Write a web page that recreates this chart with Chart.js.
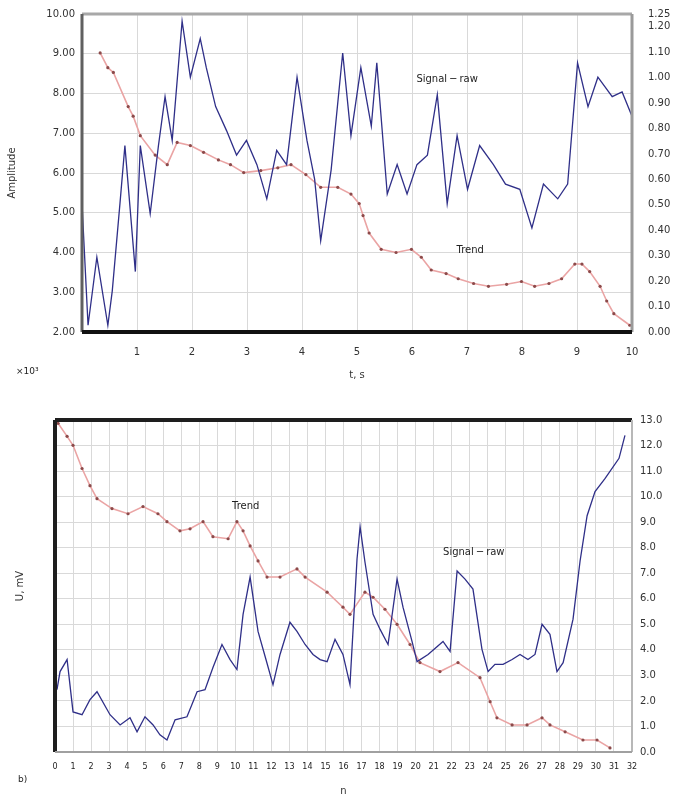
<!DOCTYPE html>
<html>
<head>
<meta charset="utf-8">
<script src="https://cdn.jsdelivr.net/npm/chart.js@4/dist/chart.umd.min.js"></script>
<style>
    html, body { margin: 0; padding: 0; background: #fff; }
    canvas { display: block; }
</style>
</head>
<body>
<canvas id="topChart" width="684" height="395"></canvas>
<canvas id="bottomChart" width="684" height="403"></canvas>
<script>
// ===== ДАННЫЕ: верхний график =====
const topSignalX = [0, 0.11, 0.27, 0.47, 0.55, 0.69, 0.78, 0.97, 1.06, 1.24, 1.39, 1.51, 1.64, 1.82, 1.97, 2.15, 2.26, 2.43, 2.63, 2.81, 2.99, 3.18, 3.36, 3.54, 3.72, 3.91, 4.09, 4.23, 4.34, 4.53, 4.74, 4.89, 5.07, 5.26, 5.36, 5.55, 5.73, 5.91, 6.09, 6.28, 6.46, 6.64, 6.82, 7.01, 7.23, 7.48, 7.70, 7.96, 8.18, 8.39, 8.65, 8.83, 9.01, 9.20, 9.38, 9.64, 9.82, 10];
const topSignalY = [5.23, 2.17, 3.88, 2.17, 3.03, 5.23, 6.69, 3.52, 6.69, 4.98, 6.69, 7.92, 6.82, 9.82, 8.41, 9.38, 8.65, 7.67, 7.06, 6.45, 6.82, 6.21, 5.35, 6.57, 6.21, 8.41, 6.82, 5.84, 4.30, 6.08, 9.02, 6.94, 8.65, 7.18, 8.77, 5.47, 6.21, 5.47, 6.21, 6.45, 7.97, 5.23, 6.94, 5.59, 6.69, 6.21, 5.72, 5.59, 4.62, 5.72, 5.35, 5.72, 8.77, 7.67, 8.41, 7.92, 8.04, 7.43];
const topTrendX = [0.33, 0.47, 0.57, 0.84, 0.93, 1.06, 1.33, 1.55, 1.73, 1.97, 2.21, 2.48, 2.70, 2.94, 3.25, 3.56, 3.80, 4.07, 4.34, 4.65, 4.89, 5.04, 5.11, 5.22, 5.44, 5.71, 5.99, 6.17, 6.35, 6.62, 6.84, 7.12, 7.39, 7.72, 7.99, 8.23, 8.49, 8.72, 8.96, 9.09, 9.23, 9.42, 9.54, 9.67, 9.96];
const topTrendY = [9.02, 8.65, 8.53, 7.67, 7.43, 6.94, 6.45, 6.21, 6.77, 6.69, 6.52, 6.33, 6.21, 6.01, 6.06, 6.13, 6.21, 5.96, 5.64, 5.64, 5.47, 5.23, 4.93, 4.49, 4.08, 4.00, 4.08, 3.88, 3.56, 3.47, 3.34, 3.22, 3.15, 3.20, 3.27, 3.15, 3.22, 3.34, 3.71, 3.71, 3.52, 3.15, 2.78, 2.46, 2.17];

// ===== ДАННЫЕ: нижний график =====
const bottomSignalX = [0.11, 0.28, 0.67, 1.00, 1.50, 1.94, 2.33, 3.05, 3.61, 4.16, 4.55, 4.99, 5.44, 5.82, 6.21, 6.66, 7.32, 7.88, 8.32, 8.76, 9.26, 9.71, 10.09, 10.43, 10.82, 11.26, 11.70, 12.09, 12.48, 13.03, 13.42, 13.87, 14.31, 14.70, 15.09, 15.53, 15.97, 16.36, 16.75, 16.92, 17.19, 17.64, 18.03, 18.47, 18.97, 19.30, 19.80, 20.08, 20.69, 21.52, 21.91, 22.30, 22.74, 23.18, 23.68, 24.02, 24.40, 24.85, 25.35, 25.79, 26.23, 26.62, 27.01, 27.45, 27.84, 28.18, 28.73, 29.12, 29.51, 29.95, 30.51, 31.28, 31.61];
const bottomSignalY = [2.44, 3.15, 3.62, 1.57, 1.46, 2.05, 2.36, 1.46, 1.06, 1.34, 0.79, 1.38, 1.06, 0.67, 0.47, 1.26, 1.38, 2.36, 2.44, 3.31, 4.21, 3.62, 3.23, 5.39, 6.85, 4.72, 3.62, 2.64, 3.82, 5.08, 4.72, 4.21, 3.82, 3.62, 3.54, 4.41, 3.82, 2.64, 7.56, 8.82, 7.44, 5.39, 4.80, 4.21, 6.77, 5.67, 4.33, 3.54, 3.82, 4.33, 3.94, 7.09, 6.77, 6.38, 4.02, 3.15, 3.43, 3.43, 3.62, 3.82, 3.62, 3.82, 5.00, 4.61, 3.15, 3.50, 5.20, 7.48, 9.25, 10.20, 10.71, 11.50, 12.40];
const bottomTrendX = [0.17, 0.67, 1.00, 1.50, 1.94, 2.33, 3.16, 4.05, 4.88, 5.71, 6.21, 6.93, 7.49, 8.21, 8.76, 9.60, 10.09, 10.43, 10.82, 11.26, 11.76, 12.48, 13.42, 13.87, 15.09, 15.97, 16.36, 17.19, 17.64, 18.30, 18.97, 19.69, 20.24, 21.35, 22.35, 23.57, 24.13, 24.51, 25.35, 26.18, 27.01, 27.45, 28.29, 29.28, 30.06, 30.78];
const bottomTrendY = [12.87, 12.36, 12.01, 11.10, 10.43, 9.92, 9.53, 9.33, 9.61, 9.33, 9.02, 8.66, 8.74, 9.02, 8.43, 8.35, 9.02, 8.66, 8.07, 7.48, 6.85, 6.85, 7.17, 6.85, 6.26, 5.67, 5.39, 6.26, 6.06, 5.59, 5.00, 4.21, 3.50, 3.15, 3.50, 2.91, 1.97, 1.34, 1.06, 1.06, 1.34, 1.06, 0.79, 0.47, 0.47, 0.16];

const FONT = '"DejaVu Sans", sans-serif';
const pts = (xs, ys) => xs.map((x, i) => ({ x: x, y: ys[i] }));

// ===== ПЛАГИНЫ: рамка и подписи =====
const framePlugin = {
    id: 'frame',
    afterDraw(chart, args, opts) {
        const { ctx, chartArea: a } = chart;
        const side = (s, x1, y1, x2, y2) => {
            if (!opts[s]) return;
            ctx.strokeStyle = opts[s][0];
            ctx.lineWidth = opts[s][1];
            ctx.beginPath();
            ctx.moveTo(x1, y1);
            ctx.lineTo(x2, y2);
            ctx.stroke();
        };
        ctx.save();
        side('top', a.left, a.top, a.right, a.top);
        side('right', a.right, a.top, a.right, a.bottom);
        side('left', a.left, a.top, a.left, a.bottom);
        side('bottom', a.left, a.bottom, a.right, a.bottom);
        ctx.restore();
    }
};

const notesPlugin = {
    id: 'notes',
    afterDatasetsDraw(chart, args, opts) {
        const { ctx, scales } = chart;
        ctx.save();
        ctx.font = '10px ' + FONT;
        ctx.fillStyle = '#222';
        ctx.textBaseline = 'middle';
        (opts.items || []).forEach(n => {
            ctx.fillText(n.text, scales.x.getPixelForValue(n.x), scales[n.axis].getPixelForValue(n.y));
        });
        (opts.fixed || []).forEach(n => {
            ctx.font = '9px ' + FONT;
            ctx.fillText(n.text, n.px, n.py);
        });
        ctx.restore();
    }
};

Chart.register(framePlugin, notesPlugin);

const tickFont = { family: FONT, size: 10 };
const gridDash = { color: '#d9d9d9', borderDash: [3, 3], drawTicks: false };

// ===== ВЕРХНИЙ ГРАФИК =====
new Chart(document.getElementById('topChart'), {
    type: 'line',
    data: {
        datasets: [
            {
                label: 'Signal',
                data: pts(topSignalX, topSignalY),
                borderColor: '#2f2f88',
                borderWidth: 1.3,
                pointRadius: 0,
                tension: 0
            },
            {
                label: 'Trend',
                data: pts(topTrendX, topTrendY),
                borderColor: '#eaa4a4',
                borderWidth: 1.6,
                pointRadius: 1.6,
                pointBackgroundColor: '#8c4a4a',
                pointBorderWidth: 0,
                tension: 0
            }
        ]
    },
    options: {
        responsive: false,
        animation: false,
        layout: { padding: { top: 5 } },
        plugins: {
            legend: { display: false },
            tooltip: { enabled: false },
            frame: {
                top: ['#a8a8a8', 3],
                right: ['#9a9a9a', 3],
                left: ['#606060', 3],
                bottom: ['#111', 4]
            },
            notes: {
                items: [
                    { text: 'Signal ─ raw', x: 6.08, y: 8.36, axis: 'y' },
                    { text: 'Trend', x: 6.81, y: 4.05, axis: 'y' }
                ],
                fixed: [{ text: '×10³', px: 16, py: 372 }]
            }
        },
        scales: {
            x: {
                type: 'linear',
                min: 0,
                max: 10,
                ticks: {
                    stepSize: 1,
                    padding: 14,
                    color: '#333',
                    font: tickFont,
                    maxRotation: 0,
                    callback: v => (v === 0 ? '' : v)
                },
                grid: gridDash,
                border: { display: false },
                title: { display: true, text: 't, s', color: '#333', font: tickFont, padding: { top: 2, bottom: 14 } },
                afterFit: s => { s.height = 63; }
            },
            y: {
                position: 'left',
                min: 2,
                max: 10,
                ticks: { stepSize: 1, padding: 7, color: '#333', font: tickFont, callback: v => v.toFixed(2) },
                grid: gridDash,
                border: { display: false },
                title: { display: true, text: 'Amplitude', color: '#333', font: tickFont, padding: { top: 6, bottom: 0 } },
                afterFit: s => { s.width = 82; }
            },
            y1: {
                position: 'right',
                min: 0,
                max: 1.25,
                ticks: { stepSize: 0.1, padding: 8, color: '#333', font: tickFont, callback: v => v.toFixed(2) },
                grid: { display: false },
                border: { display: false },
                afterFit: s => { s.width = 52; }
            }
        }
    }
});

// ===== НИЖНИЙ ГРАФИК =====
new Chart(document.getElementById('bottomChart'), {
    type: 'line',
    data: {
        datasets: [
            {
                label: 'Signal',
                data: pts(bottomSignalX, bottomSignalY),
                borderColor: '#2f2f88',
                borderWidth: 1.3,
                pointRadius: 0,
                yAxisID: 'y',
                tension: 0
            },
            {
                label: 'Trend',
                data: pts(bottomTrendX, bottomTrendY),
                borderColor: '#eaa4a4',
                borderWidth: 1.6,
                pointRadius: 1.6,
                pointBackgroundColor: '#8c4a4a',
                pointBorderWidth: 0,
                yAxisID: 'y',
                tension: 0
            }
        ]
    },
    options: {
        responsive: false,
        animation: false,
        layout: { padding: { top: 25 } },
        plugins: {
            legend: { display: false },
            tooltip: { enabled: false },
            frame: {
                top: ['#1e1e1e', 4],
                left: ['#1e1e1e', 4],
                right: ['#b8b8b8', 2],
                bottom: ['#a0a0a0', 2]
            },
            notes: {
                items: [
                    { text: 'Trend', x: 9.82, y: 9.61, axis: 'y' },
                    { text: 'Signal ─ raw', x: 21.52, y: 7.83, axis: 'y' }
                ],
                fixed: [{ text: 'b)', px: 18, py: 385 }]
            }
        },
        scales: {
            x: {
                type: 'linear',
                min: 0,
                max: 32,
                ticks: {
                    stepSize: 1,
                    padding: 10,
                    color: '#222',
                    font: { family: FONT, size: 8 },
                    autoSkip: false,
                    maxRotation: 0
                },
                grid: gridDash,
                border: { display: false },
                title: { display: true, text: 'n', color: '#333', font: tickFont, padding: { top: 0, bottom: 1 } },
                afterFit: s => { s.height = 46; }
            },
            y: {
                position: 'right',
                min: 0,
                max: 13,
                ticks: { stepSize: 1, padding: 8, color: '#333', font: tickFont, callback: v => v.toFixed(1) },
                grid: gridDash,
                border: { display: false },
                afterFit: s => { s.width = 52; }
            },
            yL: {
                position: 'left',
                min: 0,
                max: 13,
                ticks: { display: false },
                grid: { display: false },
                border: { display: false },
                title: { display: true, text: 'U, mV', color: '#333', font: tickFont, padding: { top: 14, bottom: 0 } },
                afterFit: s => { s.width = 55; }
            }
        }
    }
});
</script>
</body>
</html>
